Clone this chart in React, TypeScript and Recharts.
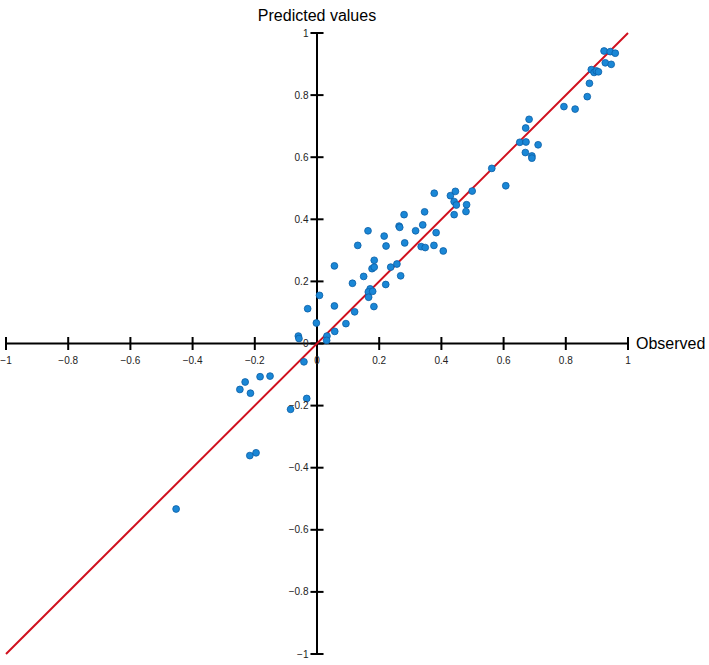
import {
  ReferenceLine,
  Scatter,
  ScatterChart,
  XAxis,
  YAxis,
} from 'recharts'

// Observed vs predicted.
const observed = [
  0.923, 0.943, 0.959, 0.927, 0.946, 0.882, 0.891, 0.898, 0.905, 0.876, 0.869, 0.794, 0.83,
  0.682, 0.671, 0.652, 0.672, 0.711, 0.67, 0.691, 0.691, 0.562, 0.607,
  0.377, 0.429, 0.445, 0.499, 0.441, 0.448, 0.481, 0.479, 0.441, 0.346, 0.28, 0.164, 0.216,
  0.264, 0.266, 0.317, 0.34, 0.383, 0.131, 0.222, 0.282, 0.335, 0.348, 0.376, 0.406, 0.184,
  0.177, 0.184, 0.237, 0.257, 0.056, 0.15, 0.269, 0.114, 0.221, 0.171, 0.165, 0.179, 0.166,
  0.008, 0.056, 0.183, 0.121, 0.093, 0.057, 0.032, 0.031,
  -0.03, -0.002, -0.06, -0.058, -0.042, -0.151, -0.183, -0.231, -0.248, -0.214, -0.033,
  -0.085, -0.196, -0.216, -0.453,
]
const predicted = [
  0.942, 0.94, 0.935, 0.904, 0.899, 0.882, 0.873, 0.878, 0.875, 0.838, 0.795, 0.763, 0.755,
  0.722, 0.694, 0.648, 0.649, 0.64, 0.615, 0.604, 0.597, 0.564, 0.508,
  0.484, 0.476, 0.49, 0.491, 0.457, 0.446, 0.447, 0.425, 0.415, 0.424, 0.415, 0.363, 0.346,
  0.378, 0.374, 0.363, 0.382, 0.357, 0.316, 0.314, 0.324, 0.312, 0.309, 0.316, 0.298, 0.268,
  0.241, 0.246, 0.246, 0.256, 0.25, 0.216, 0.218, 0.194, 0.19, 0.176, 0.166, 0.168, 0.149,
  0.155, 0.121, 0.119, 0.102, 0.064, 0.039, 0.024, 0.01,
  0.112, 0.066, 0.024, 0.016, -0.059, -0.105, -0.107, -0.124, -0.148, -0.16, -0.177,
  -0.212, -0.352, -0.361, -0.533,
]

const xTicks = [-1, -0.8, -0.6, -0.4, -0.2, 0, 0.2, 0.4, 0.6, 0.8, 1]
const yTicks = [-1, -0.8, -0.6, -0.4, -0.2, 0, 0.2, 0.4, 0.6, 0.8, 1]

const points = observed.map((x, i) => ({ x, y: predicted[i] }))

const FONT = '"Liberation Sans", Arial, Helvetica, sans-serif'
const TICK_HALF = 0.021 // half tick length, in data units

const fmt = (v: number) => (v < 0 ? '\u2212' + String(-v) : String(v))

// small filled dot, positioned by recharts (cx/cy come from the scales)
const Dot = (props: any) => (
  <circle cx={props.cx} cy={props.cy} r={3.4} fill="#1a87d6" stroke="#0b5ea6" strokeWidth={0.8} />
)

export default function App() {
  return (
    <div style={{ position: 'absolute', left: 0, top: 0 }}>
      <ScatterChart
        width={709}
        height={665}
        margin={{ top: 33, right: 81, bottom: 11, left: 6 }}
        style={{ fontFamily: FONT }}
      >
        <XAxis type="number" dataKey="x" domain={[-1, 1]} hide allowDataOverflow />
        <YAxis type="number" dataKey="y" domain={[-1, 1]} hide allowDataOverflow />

        {/* axes through the origin */}
        <ReferenceLine
          y={0}
          stroke="#000"
          strokeWidth={2}
          label={{ value: 'Observed', position: 'right', offset: 8, fill: '#000', fontSize: 16, fontFamily: FONT }}
        />
        <ReferenceLine
          x={0}
          stroke="#000"
          strokeWidth={2}
          label={{ value: 'Predicted values', position: 'top', offset: 12, fill: '#000', fontSize: 16, fontFamily: FONT }}
        />

        {xTicks.map((t) => (
          <ReferenceLine
            key={'xt' + t}
            segment={[
              { x: t, y: -TICK_HALF },
              { x: t, y: TICK_HALF },
            ]}
            stroke="#000"
            strokeWidth={2}
            ifOverflow="visible"
            label={{ value: fmt(t), position: 'bottom', offset: 7, fill: '#222', fontSize: 10, fontFamily: FONT }}
          />
        ))}
        {yTicks.map((t) => (
          <ReferenceLine
            key={'yt' + t}
            segment={[
              { x: -TICK_HALF, y: t },
              { x: TICK_HALF, y: t },
            ]}
            stroke="#000"
            strokeWidth={2}
            ifOverflow="visible"
            label={{ value: fmt(t), position: 'left', offset: 2, fill: '#222', fontSize: 10, fontFamily: FONT }}
          />
        ))}

        {/* identity line */}
        <ReferenceLine
          segment={[
            { x: -1, y: -1 },
            { x: 1, y: 1 },
          ]}
          stroke="#d0101e"
          strokeWidth={2}
          ifOverflow="visible"
        />

        <Scatter data={points} shape={Dot} isAnimationActive={false} />
      </ScatterChart>
    </div>
  )
}
